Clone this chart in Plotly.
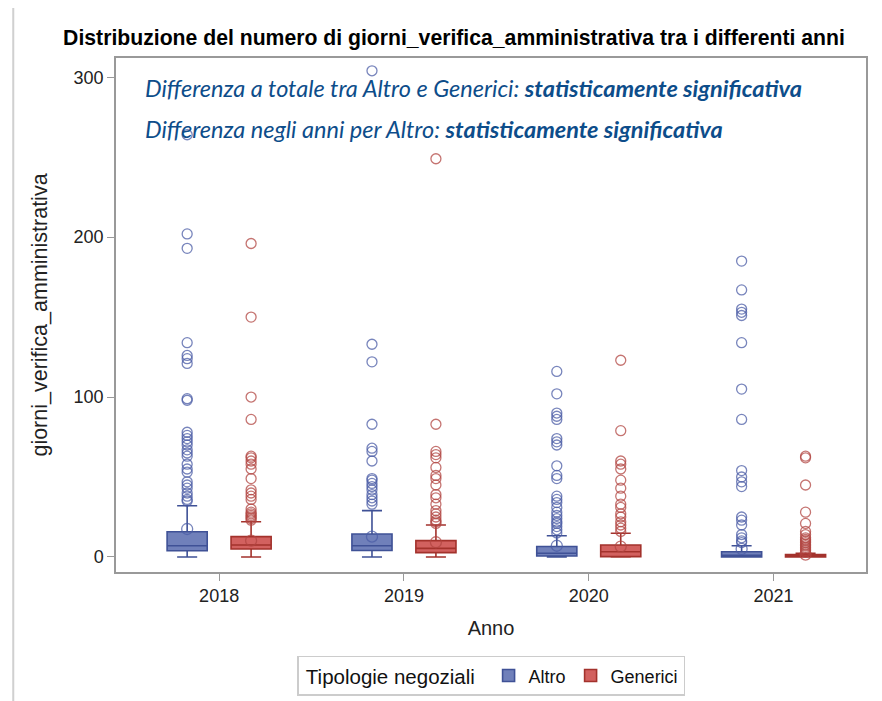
import plotly.graph_objects as go

years = ["2018", "2019", "2020", "2021"]
series = ["Altro", "Generici"]

# box statistics per year
altro_q1 = [3.9, 4.0, 0.6, 0.0]
altro_median = [7.0, 7.0, 2.3, 1.0]
altro_q3 = [15.8, 14.4, 6.5, 3.3]
altro_lower = [0.0, 0.0, 0.0, 0.0]
altro_upper = [32.0, 29.0, 13.3, 7.0]
altro_mean = [17.5, 12.7, 7.0, 5.0]

gen_q1 = [5.0, 2.7, 0.2, 0.0]
gen_median = [7.5, 5.4, 3.3, 0.5]
gen_q3 = [12.7, 10.2, 7.5, 1.5]
gen_lower = [0.0, 0.0, 0.0, 0.0]
gen_upper = [22.0, 20.0, 14.8, 2.3]
gen_mean = [10.2, 9.2, 6.5, 1.5]

# outliers per year
altro_out = [
    [264, 202, 193, 134, 126, 124, 121, 99, 98, 78, 76, 74, 72, 70, 67, 65, 63, 58, 55, 53, 47, 45, 43, 40, 38, 36, 35],
    [304, 133, 122, 83, 68, 66, 60, 49, 48, 46, 44, 42, 39, 37, 35, 33],
    [116, 102, 90, 88, 86, 74, 72, 70, 57, 51, 49, 38, 36, 34, 31, 28, 26, 24, 22, 21, 19, 17, 15],
    [185, 167, 155, 153, 151, 134, 105, 86, 54, 50, 47, 44, 25, 23, 20, 14, 12, 10, 9],
]
gen_out = [
    [196, 150, 100, 86, 63, 62, 60, 58, 55, 49, 42, 40, 38, 36, 30, 28, 27, 26, 25, 24, 23],
    [249, 83, 66, 64, 62, 56, 51, 49, 45, 39, 37, 33, 29, 27, 25, 23, 22, 21],
    [123, 79, 60, 58, 55, 48, 43, 38, 33, 31, 27, 25, 22, 20, 18, 16],
    [63, 62, 45, 28, 21, 16, 14, 12, 11, 10, 9, 8, 7, 6, 5, 4, 3],
]

title_text = "Distribuzione del numero di giorni_verifica_amministrativa tra i differenti anni"
note1 = "<i>Differenza a totale tra Altro e Generici: <b>statisticamente significativa</b></i>"
note2 = "<i>Differenza negli anni per Altro: <b>statisticamente significativa</b></i>"

OFFSET = 0.173
BOXW = 0.217
idx = list(range(len(years)))

styles = {
    "Altro": dict(line="#3f5196", fill="rgba(96,114,178,0.9)", pt="rgba(75,92,165,0.75)", off=-OFFSET,
                  q1=altro_q1, med=altro_median, q3=altro_q3, lo=altro_lower, up=altro_upper,
                  mean=altro_mean, out=altro_out),
    "Generici": dict(line="#a3322c", fill="rgba(205,80,78,0.9)", pt="rgba(178,70,65,0.75)", off=OFFSET,
                     q1=gen_q1, med=gen_median, q3=gen_q3, lo=gen_lower, up=gen_upper,
                     mean=gen_mean, out=gen_out),
}

fig = go.Figure()
for name in series:
    s = styles[name]
    pos = [i + s["off"] for i in idx]
    fig.add_trace(go.Box(
        name=name, x=pos, q1=s["q1"], median=s["med"], q3=s["q3"],
        lowerfence=s["lo"], upperfence=s["up"], width=BOXW, whiskerwidth=0.5,
        fillcolor=s["fill"], line=dict(color=s["line"], width=1.6), boxpoints=False,
        showlegend=True, hoverinfo="skip",
    ))
    ox, oy = [], []
    for i, vals in zip(idx, s["out"]):
        ox += [i + s["off"]] * len(vals)
        oy += vals
    fig.add_trace(go.Scatter(
        x=ox, y=oy, mode="markers", showlegend=False, hoverinfo="skip",
        marker=dict(symbol="circle-open", size=10, color=s["pt"], line=dict(width=1.3)),
    ))
    fig.add_trace(go.Scatter(
        x=pos, y=s["mean"], mode="markers", showlegend=False, hoverinfo="skip",
        marker=dict(symbol="circle-open", size=11, color=s["pt"], line=dict(width=1.3)),
    ))

note_font = dict(family="Lato", size=23.5, color="#0d4d8a")
fig.add_annotation(xref="paper", yref="paper", x=0.036, y=0.9416, xanchor="left", yanchor="middle",
                   text=note1, showarrow=False, font=note_font)
fig.add_annotation(xref="paper", yref="paper", x=0.036, y=0.862, xanchor="left", yanchor="middle",
                   text=note2, showarrow=False, font=note_font)

# outer frame
fig.add_shape(type="rect", xref="paper", yref="paper", x0=-0.137, x1=1.016, y0=-0.26, y1=1.099,
              line=dict(color="#d0d0d0", width=2), fillcolor="rgba(0,0,0,0)", layer="below")

axis_font = dict(family="Liberation Sans, Arial", size=18, color="#222")
fig.update_layout(
    width=874, height=693,
    margin=dict(l=108, r=16, t=50, b=129, autoexpand=False),
    paper_bgcolor="white", plot_bgcolor="white",
    title=dict(text="<b>" + title_text + "</b>", x=446 / 874, xref="container", xanchor="center",
               y=1 - 30 / 693, yref="container", yanchor="middle",
               font=dict(family="Liberation Sans, Arial", size=21.2, color="black")),
    xaxis=dict(range=[-0.558, 3.5], tickvals=idx, ticktext=years, ticks="outside", ticklen=7,
               tickcolor="#999", showline=True, linecolor="#999", linewidth=1.5, mirror=True,
               showgrid=False, zeroline=False, tickfont=axis_font, automargin=False,
               title=dict(text="Anno", standoff=16, font=dict(family="Liberation Sans, Arial", size=20, color="#222"))),
    yaxis=dict(range=[-9.4, 312], tickvals=[0, 100, 200, 300], ticks="outside", ticklen=7,
               tickcolor="#999", showline=True, linecolor="#999", linewidth=1.5, mirror=True,
               showgrid=False, zeroline=False, tickfont=axis_font, automargin=False,
               title=dict(text="giorni_verifica_amministrativa", standoff=20,
                          font=dict(family="Liberation Sans, Arial", size=21.5, color="#222"))),
    legend=dict(orientation="h", x=0.5, xanchor="center", y=-0.163, yanchor="top",
                title=dict(text=" Tipologie negoziali ", side="left",
                           font=dict(family="Liberation Sans, Arial", size=20.5, color="#111")),
                font=dict(family="Liberation Sans, Arial", size=18, color="#111"),
                bordercolor="#cccccc", borderwidth=1.5, itemwidth=30, tracegroupgap=0),
)

fig.write_html("out.html")
